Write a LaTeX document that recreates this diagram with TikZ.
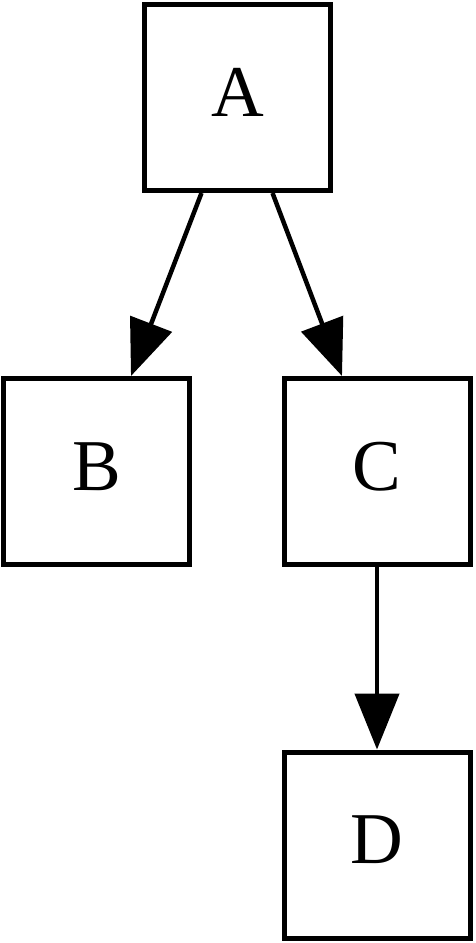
\documentclass[tikz,border=0pt]{standalone}
\usepackage{fontspec}
\setmainfont{Liberation Serif}
\usetikzlibrary{arrows.meta,calc}
\begin{document}
\begin{tikzpicture}[x=1pt,y=-1pt,
  box/.style={draw=black,line width=5pt,minimum width=186pt,minimum height=186pt,inner sep=0pt,
    text depth=10pt,font=\fontsize{73}{73}\selectfont},
  edge/.style={line width=4.5pt,-{Triangle[length=56pt,width=44pt]}}]
\useasboundingbox (0,0) rectangle (475,943);
\node[box] (A) at (237.5,97.5) {A};
\node[box] (B) at (96.5,471.5) {B};
\node[box] (C) at (377,471.5) {C};
\node[box] (D) at (377,845) {D};
\draw[edge] ($(A.south)+(-36,0)$) -- ($(B.north)+(34.5,0)$);
\draw[edge] ($(A.south)+(35,0)$) -- ($(C.north)+(-35,0)$);
\draw[edge] (C.south) -- (D.north);
\end{tikzpicture}
\end{document}
